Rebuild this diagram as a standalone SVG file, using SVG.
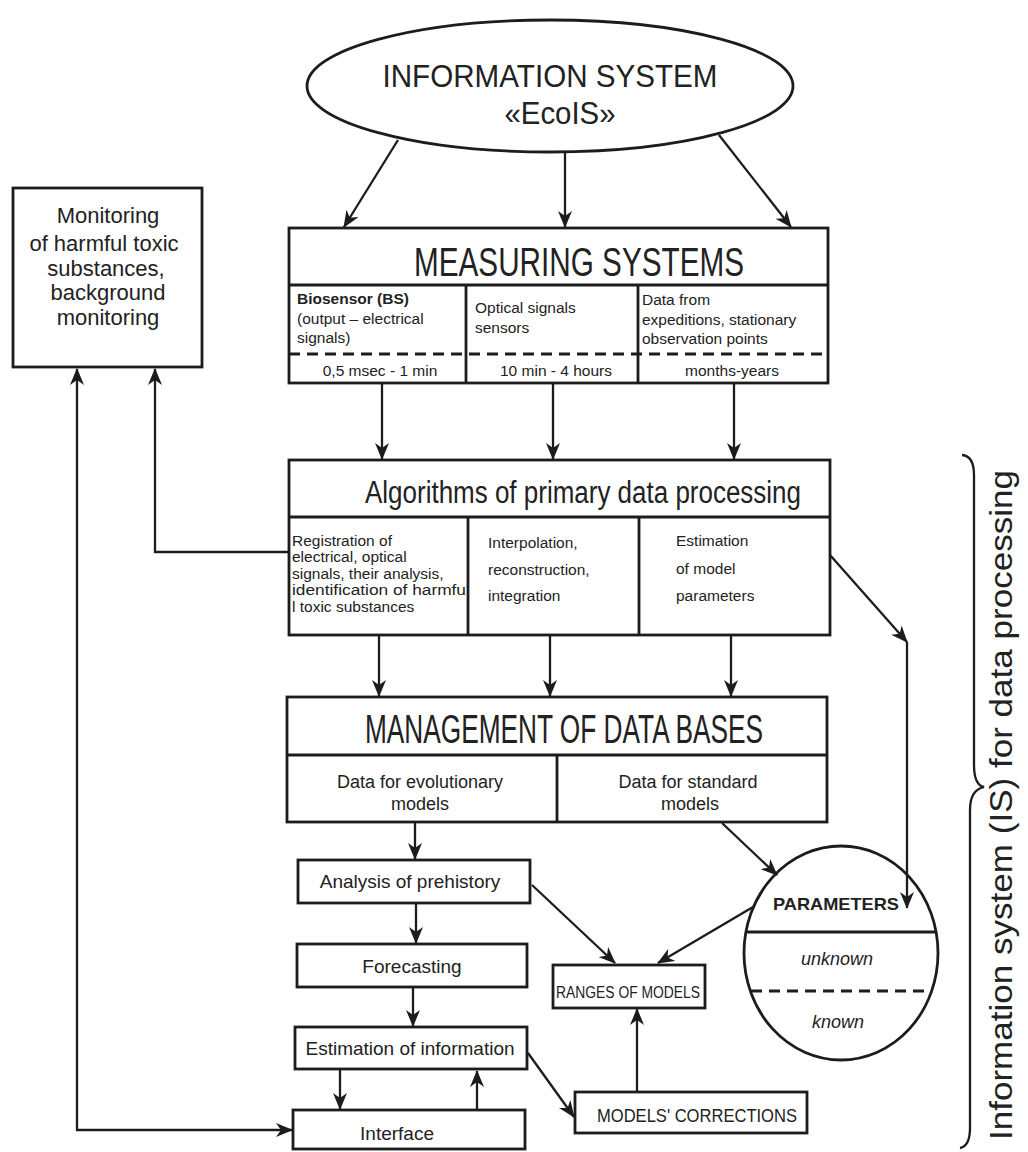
<svg xmlns="http://www.w3.org/2000/svg" width="1028" height="1152" viewBox="0 0 1028 1152">
<style>
.box{fill:none;stroke:#1c1c1c;stroke-width:2.8}
.ln{fill:none;stroke:#1c1c1c;stroke-width:2.3}
.dash{fill:none;stroke:#1c1c1c;stroke-width:2.8;stroke-dasharray:11,7}
.arr{marker-end:url(#ah)}
.arr2{marker-start:url(#ahs);marker-end:url(#ah)}
text{font-family:"Liberation Sans",Arial,sans-serif;fill:#222}
.big{font-size:40px}
.hdr{font-size:31px}
.cell{font-size:15.5px}
.db{font-size:18px;text-anchor:middle}
.mid{text-anchor:middle}
.lbl{font-size:19px;text-anchor:middle}
</style>
<defs>
<marker id="ah" viewBox="0 0 17 14" refX="16" refY="7" markerWidth="17" markerHeight="14" markerUnits="userSpaceOnUse" orient="auto"><path d="M0,0 L17,7 L0,14 L5,7 z" fill="#1c1c1c"/></marker>
<marker id="ahs" viewBox="0 0 17 14" refX="16" refY="7" markerWidth="17" markerHeight="14" markerUnits="userSpaceOnUse" orient="auto-start-reverse"><path d="M0,0 L17,7 L0,14 L5,7 z" fill="#1c1c1c"/></marker>
</defs>
<rect width="1028" height="1152" fill="#ffffff"/>

<g id="connectors">
<line class="ln arr" x1="398" y1="140" x2="344" y2="227"/>
<line class="ln arr" x1="565" y1="152" x2="565" y2="227"/>
<line class="ln arr" x1="719" y1="135" x2="791" y2="227"/>
<line class="ln arr" x1="382" y1="384" x2="382" y2="459"/>
<line class="ln arr" x1="553" y1="384" x2="553" y2="459"/>
<line class="ln arr" x1="734" y1="384" x2="734" y2="459"/>
<path class="ln arr" d="M289,552 H155 V369"/>
<path class="ln arr2" d="M77,369 V1130 H292"/>
<line class="ln arr" x1="830" y1="555" x2="907" y2="642"/>
<line class="ln arr" x1="907" y1="642" x2="907" y2="908"/>
<line class="ln arr" x1="379" y1="636" x2="379" y2="696"/>
<line class="ln arr" x1="550" y1="636" x2="550" y2="696"/>
<line class="ln arr" x1="731" y1="636" x2="731" y2="696"/>
<line class="ln arr" x1="415" y1="823" x2="415" y2="859"/>
<line class="ln arr" x1="416" y1="904" x2="416" y2="943"/>
<line class="ln arr" x1="413" y1="988" x2="413" y2="1026"/>
<line class="ln arr" x1="340" y1="1070" x2="340" y2="1109"/>
<line class="ln arr" x1="477" y1="1110" x2="477" y2="1071"/>
<line class="ln arr" x1="722" y1="823" x2="777" y2="875"/>
<line class="ln arr" x1="532" y1="885" x2="615" y2="963"/>
<line class="ln arr" x1="753" y1="907" x2="658" y2="963"/>
<line class="ln arr" x1="528" y1="1053" x2="574" y2="1117"/>
<line class="ln arr" x1="637" y1="1092" x2="637" y2="1009"/>
</g>

<g id="info-system">
<ellipse class="box" cx="550" cy="86" rx="243" ry="66"/>
<text class="mid" x="550" y="87" font-size="32" textLength="335" lengthAdjust="spacingAndGlyphs">INFORMATION SYSTEM</text>
<text class="mid" x="560" y="124" font-size="32" textLength="111" lengthAdjust="spacingAndGlyphs">«EcoIS»</text>
</g>

<g id="monitoring">
<rect class="box" x="13" y="188" width="189" height="179"/>
<text class="mid" x="108" y="223" font-size="22">Monitoring</text>
<text class="mid" x="104" y="251" font-size="22">of harmful toxic</text>
<text class="mid" x="106" y="276" font-size="22">substances,</text>
<text class="mid" x="108" y="300" font-size="22">background</text>
<text class="mid" x="108" y="325" font-size="22">monitoring</text>
</g>

<g id="measuring">
<rect class="box" x="289" y="228" width="539" height="155"/>
<line class="box" x1="289" y1="285" x2="828" y2="285"/>
<line class="box" x1="466" y1="285" x2="466" y2="383"/>
<line class="box" x1="638" y1="285" x2="638" y2="383"/>
<line class="dash" x1="289" y1="354" x2="828" y2="354"/>
<text class="big" x="414" y="276" textLength="330" lengthAdjust="spacingAndGlyphs">MEASURING SYSTEMS</text>
<text class="cell" x="297" y="304" font-weight="bold">Biosensor (BS)</text>
<text class="cell" x="297" y="324">(output – electrical</text>
<text class="cell" x="297" y="343">signals)</text>
<text class="cell" x="475" y="313">Optical signals</text>
<text class="cell" x="475" y="333">sensors</text>
<text class="cell" x="642" y="305">Data from</text>
<text class="cell" x="642" y="325">expeditions, stationary</text>
<text class="cell" x="642" y="344">observation points</text>
<text class="cell mid" x="380" y="376">0,5 msec - 1 min</text>
<text class="cell mid" x="556" y="376">10 min  - 4 hours</text>
<text class="cell mid" x="732" y="376">months-years</text>
</g>

<g id="algorithms">
<rect class="box" x="289" y="460" width="541" height="175"/>
<line class="box" x1="289" y1="517" x2="830" y2="517"/>
<line class="box" x1="468" y1="517" x2="468" y2="635"/>
<line class="box" x1="639" y1="517" x2="639" y2="635"/>
<text class="hdr" x="365" y="503" textLength="436" lengthAdjust="spacingAndGlyphs">Algorithms of primary data processing</text>
<text class="cell" x="292" y="546">Registration of</text>
<text class="cell" x="292" y="562">electrical, optical</text>
<text class="cell" x="292" y="579">signals, their analysis,</text>
<text class="cell" x="292" y="595" textLength="174" lengthAdjust="spacingAndGlyphs">identification of harmfu</text>
<text class="cell" x="292" y="612">l toxic substances</text>
<text class="cell" x="488" y="548">Interpolation,</text>
<text class="cell" x="488" y="575">reconstruction,</text>
<text class="cell" x="488" y="601">integration</text>
<text class="cell" x="676" y="546">Estimation</text>
<text class="cell" x="676" y="574">of model</text>
<text class="cell" x="676" y="601">parameters</text>
</g>

<g id="management">
<rect class="box" x="287" y="697" width="540" height="125"/>
<line class="box" x1="287" y1="755" x2="827" y2="755"/>
<line class="box" x1="557" y1="755" x2="557" y2="822"/>
<text class="big" x="365" y="743" textLength="398" lengthAdjust="spacingAndGlyphs">MANAGEMENT OF DATA BASES</text>
<text class="db" x="420" y="788">Data for evolutionary</text>
<text class="db" x="420" y="810">models</text>
<text class="db" x="688" y="788">Data for standard</text>
<text class="db" x="690" y="810">models</text>
</g>

<g id="analysis">
<rect class="box" x="298" y="860" width="232" height="43"/>
<text class="lbl" x="410" y="888">Analysis of prehistory</text>
</g>
<g id="forecasting">
<rect class="box" x="297" y="944" width="230" height="43"/>
<text class="lbl" x="412" y="973">Forecasting</text>
</g>
<g id="estimation-info">
<rect class="box" x="295" y="1027" width="232" height="42"/>
<text class="lbl" x="410" y="1055">Estimation of information</text>
</g>
<g id="interface">
<rect class="box" x="293" y="1110" width="232" height="39"/>
<text class="lbl" x="397" y="1140">Interface</text>
</g>

<g id="ranges">
<rect class="box" x="553" y="965" width="152" height="43"/>
<text x="556" y="998" font-size="16" textLength="144" lengthAdjust="spacingAndGlyphs">RANGES OF MODELS</text>
</g>
<g id="corrections">
<rect class="box" x="575" y="1092" width="232" height="41"/>
<text x="597" y="1122" font-size="18" textLength="200" lengthAdjust="spacingAndGlyphs">MODELS' CORRECTIONS</text>
</g>

<g id="parameters">
<ellipse class="box" cx="841" cy="953" rx="97" ry="107"/>
<line class="box" x1="746" y1="932" x2="936" y2="932"/>
<line class="dash" x1="751" y1="991" x2="931" y2="991"/>
<text class="mid" x="836" y="910" font-size="17" font-weight="bold" textLength="126" lengthAdjust="spacingAndGlyphs">PARAMETERS</text>
<text class="mid" x="837" y="965" font-size="18" font-style="italic">unknown</text>
<text class="mid" x="838" y="1028" font-size="18" font-style="italic">known</text>
</g>

<g id="brace">
<path class="ln" d="M962,455 Q974,456 974,475 V765 Q974,785 984,787 Q970,790 970,810 V1128 Q970,1146 960,1148"/>
<text transform="translate(1012,805) rotate(-90)" text-anchor="middle" font-size="32" textLength="670" lengthAdjust="spacingAndGlyphs">Information system (IS) for data processing</text>
</g>
</svg>
